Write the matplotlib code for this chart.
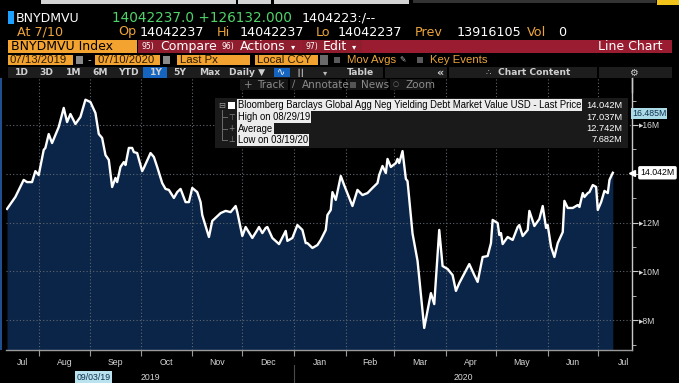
import numpy as np
import pandas as pd
import matplotlib
matplotlib.use("Agg")
import matplotlib.pyplot as plt
import matplotlib.dates as mdates
from matplotlib.patches import Rectangle
from matplotlib.ticker import FixedLocator, MultipleLocator, FuncFormatter, NullFormatter

plt.rcParams['font.family'] = ['Liberation Sans', 'DejaVu Sans']

# BNYDMVU Index - last price in millions USD
dates = [
    '2019-07-13', '2019-07-18', '2019-07-23', '2019-07-25', '2019-07-28', '2019-07-30',
    '2019-08-01', '2019-08-04', '2019-08-05', '2019-08-07', '2019-08-09', '2019-08-13',
    '2019-08-16', '2019-08-18', '2019-08-20', '2019-08-23', '2019-08-26', '2019-08-29',
    '2019-09-01', '2019-09-04', '2019-09-06', '2019-09-08', '2019-09-10', '2019-09-12',
    '2019-09-14', '2019-09-16', '2019-09-17', '2019-09-19', '2019-09-21', '2019-09-22',
    '2019-09-24', '2019-09-26', '2019-09-27', '2019-09-29', '2019-10-02', '2019-10-03',
    '2019-10-07', '2019-10-09', '2019-10-11', '2019-10-14', '2019-10-16', '2019-10-18',
    '2019-10-21', '2019-10-23', '2019-10-25', '2019-10-28', '2019-10-30', '2019-11-01',
    '2019-11-04', '2019-11-06', '2019-11-07', '2019-11-11', '2019-11-13', '2019-11-18',
    '2019-11-21', '2019-11-24', '2019-11-27', '2019-11-28', '2019-12-01', '2019-12-03',
    '2019-12-07', '2019-12-10', '2019-12-11', '2019-12-13', '2019-12-15', '2019-12-16',
    '2019-12-19', '2019-12-23', '2019-12-27', '2019-12-28', '2019-12-31', '2020-01-03',
    '2020-01-06', '2020-01-08', '2020-01-09', '2020-01-12', '2020-01-15', '2020-01-17',
    '2020-01-20', '2020-01-21', '2020-01-23', '2020-01-24', '2020-01-26', '2020-01-29',
    '2020-01-31', '2020-02-05', '2020-02-08', '2020-02-11', '2020-02-14', '2020-02-17',
    '2020-02-20', '2020-02-21', '2020-02-23', '2020-02-25', '2020-02-26', '2020-02-28',
    '2020-03-02', '2020-03-03', '2020-03-04', '2020-03-06', '2020-03-08', '2020-03-09',
    '2020-03-12', '2020-03-15', '2020-03-19', '2020-03-23', '2020-03-25', '2020-03-28',
    '2020-03-30', '2020-04-02', '2020-04-05', '2020-04-07', '2020-04-09', '2020-04-15',
    '2020-04-18', '2020-04-20', '2020-04-23', '2020-04-26', '2020-04-28', '2020-04-29',
    '2020-05-02', '2020-05-03', '2020-05-04', '2020-05-05', '2020-05-08', '2020-05-11',
    '2020-05-14', '2020-05-15', '2020-05-17', '2020-05-20', '2020-05-21', '2020-05-24',
    '2020-05-27', '2020-05-29', '2020-05-31', '2020-06-01', '2020-06-03', '2020-06-05',
    '2020-06-07', '2020-06-10', '2020-06-11', '2020-06-13', '2020-06-16', '2020-06-19',
    '2020-06-20', '2020-06-22', '2020-06-23', '2020-06-25', '2020-06-26', '2020-06-28',
    '2020-06-30', '2020-07-01', '2020-07-03', '2020-07-05', '2020-07-07', '2020-07-08',
    '2020-07-10',
]
values = [
    12.56, 13.05, 13.75, 13.66, 13.66, 14.11,
    13.95, 14.98, 15.06, 15.63, 15.26, 15.92,
    16.70, 16.12, 16.45, 16.04, 16.33, 17.037,
    16.94, 16.49, 15.63, 15.47, 14.77, 14.57,
    13.46, 13.83, 13.66, 14.28, 14.48, 14.36,
    15.06, 15.06, 14.89, 14.85, 14.11, 14.24,
    14.85, 14.69, 14.28, 13.62, 13.38, 13.34,
    13.01, 13.25, 13.38, 12.84, 12.84, 13.42,
    13.25, 12.84, 12.31, 11.41, 12.07, 12.39,
    12.48, 12.43, 12.68, 12.43, 11.45, 11.82,
    11.37, 11.70, 11.82, 11.57, 11.78, 11.82,
    11.37, 11.12, 11.66, 11.25, 11.37, 11.90,
    11.70, 11.16, 11.16, 10.96, 11.08, 11.29,
    11.70, 12.31, 12.52, 13.25, 12.93, 13.91,
    13.54, 12.68, 13.34, 13.13, 13.21, 13.42,
    13.62, 13.95, 14.32, 14.03, 14.61, 14.28,
    14.44, 14.61, 14.44, 14.93, 13.79, 13.70,
    11.55, 10.43, 7.682, 9.11, 8.66, 11.70,
    10.22, 10.10, 9.85, 9.20, 9.52, 10.30,
    9.85, 9.57, 10.59, 10.63, 11.16, 12.11,
    11.98, 11.49, 11.57, 11.12, 11.41, 11.29,
    11.82, 11.90, 11.45, 11.70, 12.48, 11.86,
    12.15, 12.68, 11.78, 11.90, 11.00, 10.59,
    11.16, 11.61, 12.89, 12.60, 12.60, 12.72,
    12.64, 13.21, 13.05, 13.21, 13.25, 13.54,
    13.46, 12.52, 12.84, 13.30, 13.21, 13.75,
    14.042,
]

avg_px = 12.742          # average over the window as shown by the terminal
cursor_px = 16.485       # crosshair value
cursor_date = '2019-09-03'
series_name = 'Bloomberg Barclays Global Agg Neg Yielding Debt Market Value USD - Last Price'

ORANGE = '#f3a32f'
ORANGE_TXT = '#eba43a'
RED = '#8f1d2e'
NAVY = '#0a2547'
GRID = '#5f6670'

ts = pd.to_datetime(dates)
vals = np.array(values)

fig = plt.figure(figsize=(6.79, 3.83), dpi=100, facecolor='black')

# chart area
ax = fig.add_axes([6 / 679, 33 / 383, 626 / 679, 272 / 383], zorder=1)
ax.set_facecolor('black')
ylo, yhi = 6.779, 17.926
ax.fill_between(ts, vals, ylo, color=NAVY, lw=0, zorder=1)
ax.plot(ts, vals, color='white', lw=1.7, solid_joinstyle='round', zorder=4)
ax.set_ylim(ylo, yhi)
ax.set_xlim(ts[0] - pd.Timedelta(days=0.6), ts[-1] + pd.Timedelta(days=11.5))

for s in ['top', 'left']:
    ax.spines[s].set_visible(False)
ax.spines['bottom'].set_color('#9a9a9a')
ax.spines['right'].set_color('#c8c8c8')
ax.spines['bottom'].set_linewidth(1.0)
ax.spines['right'].set_linewidth(1.0)

# x axis: ticks at month starts, labels in the middle of each month
x0, x1 = ax.get_xlim()
month_starts = pd.date_range(ts[0], ts[-1] + pd.Timedelta(days=12), freq='MS')
edges = [mdates.num2date(x0).replace(tzinfo=None)] + list(month_starts) + [month_starts[-1] + pd.offsets.MonthBegin(1)]
mids, names = [], []
for a, b in zip(edges[:-1], edges[1:]):
    a = pd.Timestamp(a)
    mids.append(mdates.date2num(a + (pd.Timestamp(b) - a) / 2))
    names.append(a.strftime('%b'))
ax.xaxis.set_major_locator(FixedLocator(mdates.date2num(month_starts)))
ax.xaxis.set_major_formatter(NullFormatter())
ax.xaxis.set_minor_locator(FixedLocator(mids))
ax.xaxis.set_minor_formatter(FuncFormatter(lambda v, p: names[p] if p is not None and p < len(names) else ''))
ax.tick_params(axis='x', which='major', length=4, color='#9a9a9a', direction='out')
ax.tick_params(axis='x', which='minor', length=0, pad=6, labelsize=6.3, labelcolor='#d6d6d6')

# y axis on the right; the last-price tag hides the tick label next to it
def ylab(v, p):
    if abs(v - vals[-1]) < 0.6:
        return ''
    return '\u25b8%dM' % v

ax.yaxis.tick_right()
ax.yaxis.set_major_locator(MultipleLocator(2))
ax.yaxis.set_minor_locator(MultipleLocator(1))
ax.yaxis.set_major_formatter(FuncFormatter(ylab))
ax.tick_params(axis='y', which='major', length=4, color='#c8c8c8', pad=1, labelsize=6.2, labelcolor='#d6d6d6')
ax.tick_params(axis='y', which='minor', length=3, color='#c8c8c8')

ax.grid(True, which='major', axis='both', color=GRID, linestyle=(0, (1, 2)), linewidth=0.8)
ax.set_axisbelow(False)

# year labels under the month labels
xt = ax.get_xaxis_transform()
for yr in sorted(set(ts.year)):
    a = max(mdates.date2num(pd.Timestamp(f'{yr}-01-01')), x0)
    b = min(mdates.date2num(pd.Timestamp(f'{yr + 1}-01-01')), x1)
    ax.text((a + b) / 2, -0.10, str(yr), transform=xt, ha='center', va='center',
            fontsize=6.3, color='#d6d6d6', clip_on=False)
    if yr > ts[0].year:
        ax.plot([a, a], [-0.055, -0.125], transform=xt, color='#4a4a4a', lw=0.8, clip_on=False)
ax.text(mdates.date2num(pd.Timestamp(cursor_date)), -0.10, pd.Timestamp(cursor_date).strftime('%m/%d/%y'),
        transform=xt, ha='center', va='center', fontsize=6.3, color='#103050', clip_on=False,
        bbox=dict(boxstyle='square,pad=0.15', fc='#b9e3ee', ec='none'))

# last price and crosshair tags on the right axis
yt = ax.get_yaxis_transform()
ax.annotate('%.3fM' % vals[-1], xy=(1.0, vals[-1]), xycoords=yt, xytext=(6, 0), textcoords='offset points',
            ha='left', va='center', fontsize=6.3, color='black', annotation_clip=False, zorder=6,
            bbox=dict(boxstyle='round,pad=0.25,rounding_size=0.2', fc='white', ec='none'))
ax.plot([1.0], [vals[-1]], marker='<', ms=5, color='white', transform=yt, clip_on=False, zorder=6)
ax.text(1.0, cursor_px, '%.3fM' % cursor_px, transform=yt, ha='left', va='center', fontsize=6.3,
        color='#103050', clip_on=False, zorder=6, bbox=dict(boxstyle='square,pad=0.12', fc='#aadbe6', ec='none'))

# terminal chrome on top, in pixel coordinates
ui = fig.add_axes([0, 0, 1, 1], zorder=5)
ui.set_xlim(0, 679)
ui.set_ylim(383, 0)
ui.axis('off')
ui.patch.set_alpha(0)

def box(x, y, w, h, c):
    ui.add_patch(Rectangle((x, y), w, h, facecolor=c, edgecolor='none'))

def txt(x, y, s, c='white', size=9, **kw):
    kw.setdefault('family', ['DejaVu Sans'])
    ui.text(x, y, s, color=c, fontsize=size, ha=kw.pop('ha', 'left'), va='center', **kw)

box(41, 0, 195, 3.5, '#d4d4d4')
box(238, 0, 33, 3.5, '#d4d4d4')
box(274, 0, 135, 3.5, '#d4d4d4')
box(413, 0, 243, 2.5, '#333333')
box(657, 0, 22, 5, '#f2c318')

box(8, 11, 6, 13, '#1ea0ff')
txt(16, 18, 'BNYDMVU', size=9.0)
txt(112, 18, '14042237.0 +126132.000', c='#4fd36b', size=9.8)
txt(302, 18, '1404223:/--', size=9.2)

txt(17, 32, 'At 7/10', c=ORANGE_TXT, size=9.2)
for x, s, c in [(118, 'Op', ORANGE_TXT), (140, '14042237', 'white'), (217, 'Hi', ORANGE_TXT),
                (240, '14042237', 'white'), (316, 'Lo', ORANGE_TXT), (338, '14042237', 'white'),
                (415, 'Prev', ORANGE_TXT), (457, '13916105', 'white'), (527, 'Vol', ORANGE_TXT),
                (558, '0', 'white')]:
    txt(x, 32, s, c=c, size=9.2)

# function bar
box(8, 40, 129, 13, ORANGE)
txt(11, 46.5, 'BNYDMVU Index', c='black', size=9)
box(138, 40, 534, 13, '#9a1c30')
box(138, 40, 79, 13, RED)
box(219, 40, 81, 13, RED)
box(302, 40, 60, 13, RED)
txt(142, 46.5, '95)', size=5.5)
txt(160, 46.5, 'Compare', size=9)
txt(222, 46.5, '96)', size=5.5)
txt(240, 46.5, 'Actions', size=9)
txt(291, 47, '\u25be', size=6)
txt(305, 46.5, '97)', size=5.5)
txt(323, 46.5, 'Edit', size=9)
txt(352, 47, '\u25be', size=6)
txt(663, 46.5, 'Line Chart', size=9, ha='right')

# date range row
row4 = dict(family=['Liberation Sans', 'DejaVu Sans'])
box(8, 55, 65, 10, ORANGE)
box(95, 55, 65, 10, ORANGE)
box(177, 55, 73, 10, ORANGE)
box(255, 55, 63, 10, ORANGE)
box(76, 56, 7, 8, '#8a8a8a')
box(163, 56, 7, 8, '#8a8a8a')
box(320, 55, 8, 10, '#6a6a6a')
txt(10, 60, '07/13/2019', c='#2a1a00', size=8.2, **row4)
txt(87, 60, '-', c='#cccccc', size=8, **row4)
txt(97, 60, '07/10/2020', c='#2a1a00', size=8.2, **row4)
txt(180, 60, 'Last Px', c='#2a1a00', size=8.2, **row4)
txt(257, 60, 'Local CCY', c='#2a1a00', size=8.2, **row4)
box(334, 57, 6, 6, '#5a5a5a')
txt(347, 60, 'Mov Avgs', c=ORANGE_TXT, size=8.2, **row4)
txt(399, 60, '\u270e', c='#bbbbbb', size=5.5)
box(417, 57, 6, 6, '#5a5a5a')
txt(430, 60, 'Key Events', c=ORANGE_TXT, size=8.2, **row4)

# period buttons row
box(8, 67, 664, 11, '#1d1d1d')
for xs in [383, 447, 597]:
    box(xs, 67, 1.5, 11, 'black')
box(143, 67, 24, 11, '#1565c0')
box(274, 68, 16, 9, '#1565c0')
for x, s in [(15, '1D'), (39, '3D'), (66, '1M'), (92, '6M'), (118, 'YTD'), (150, '1Y'),
             (173, '5Y'), (199, 'Max'), (229, 'Daily \u25bc')]:
    txt(x, 72.5, s, c='#d0d0d0', size=6.6, weight='bold')
txt(277, 72.5, '\u223f', c='#ffffff', size=7)
txt(296, 72.5, '\u2503\u2503', c='#bbbbbb', size=5)
txt(323, 72.5, '\u25be', c='#bbbbbb', size=6)
txt(347, 72.5, 'Table', c='#d0d0d0', size=6.6, weight='bold')
txt(436, 72.5, '\u00ab', c='#d0d0d0', size=8, weight='bold')
txt(485, 72.5, '\u2234', c='#bbbbbb', size=6)
txt(498, 72.5, 'Chart Content', c='#d0d0d0', size=6.6, weight='bold')
txt(629, 72.5, '\u2699', c='#d0d0d0', size=7)

# chart tool row
for bx, bw in [(240, 48), (290, 52), (347, 40), (390, 42)]:
    box(bx, 79, bw, 11, '#151515')
txt(244, 84.5, '+', c='#8c8c8c', size=7.5)
txt(257, 84.5, 'Track', c='#8c8c8c', size=7.5)
txt(292, 84.5, '\u2215', c='#8c8c8c', size=7)
txt(302, 84.5, 'Annotate', c='#8c8c8c', size=7.5)
box(350, 82, 6, 6, '#555555')
txt(361, 84.5, 'News', c='#8c8c8c', size=7.5)
txt(393, 84.5, '\u25cb', c='#777777', size=5)
txt(405, 84.5, 'Zoom', c='#8c8c8c', size=7.5)

# legend panel
box(0, 78, 2.2, 272, '#1f4f8f')
box(215, 98, 413, 50, '#1a1a1a')
lab = dict(family=['Liberation Sans', 'DejaVu Sans'])
txt(218, 105, '\u229f', c='#9a9a9a', size=6)
box(228, 101.5, 7, 7, 'white')
hi_i, lo_i = int(np.argmax(vals)), int(np.argmin(vals))
rows = [
    (105, series_name, vals[-1]),
    (117, 'High on ' + ts[hi_i].strftime('%m/%d/%y'), vals[hi_i]),
    (128.5, 'Average', avg_px),
    (140, 'Low on ' + ts[lo_i].strftime('%m/%d/%y'), vals[lo_i]),
]
for y, s, v in rows:
    ui.text(238, y, s, color='black', fontsize=6.85, va='center', ha='left',
            bbox=dict(boxstyle='square,pad=0.1', fc='#ececec', ec='none'), **lab)
    ui.text(622, y, '%.3fM' % v, color='white', fontsize=6.7, va='center', ha='right', **lab)
ui.plot([222, 222], [110, 140], color='#6a6a6a', lw=0.7)
for y, g in [(117, '\u22a4'), (128.5, '+'), (140, '\u22a5')]:
    ui.plot([222, 227], [y, y], color='#6a6a6a', lw=0.7)
    txt(228, y, g, c='#8a8a8a', size=5.5)

# axis line extends up under the gear
ui.plot([631.5, 631.5], [78, 92], color='#c8c8c8', lw=1.0)

fig.savefig('out.png', dpi=100, facecolor='black')
